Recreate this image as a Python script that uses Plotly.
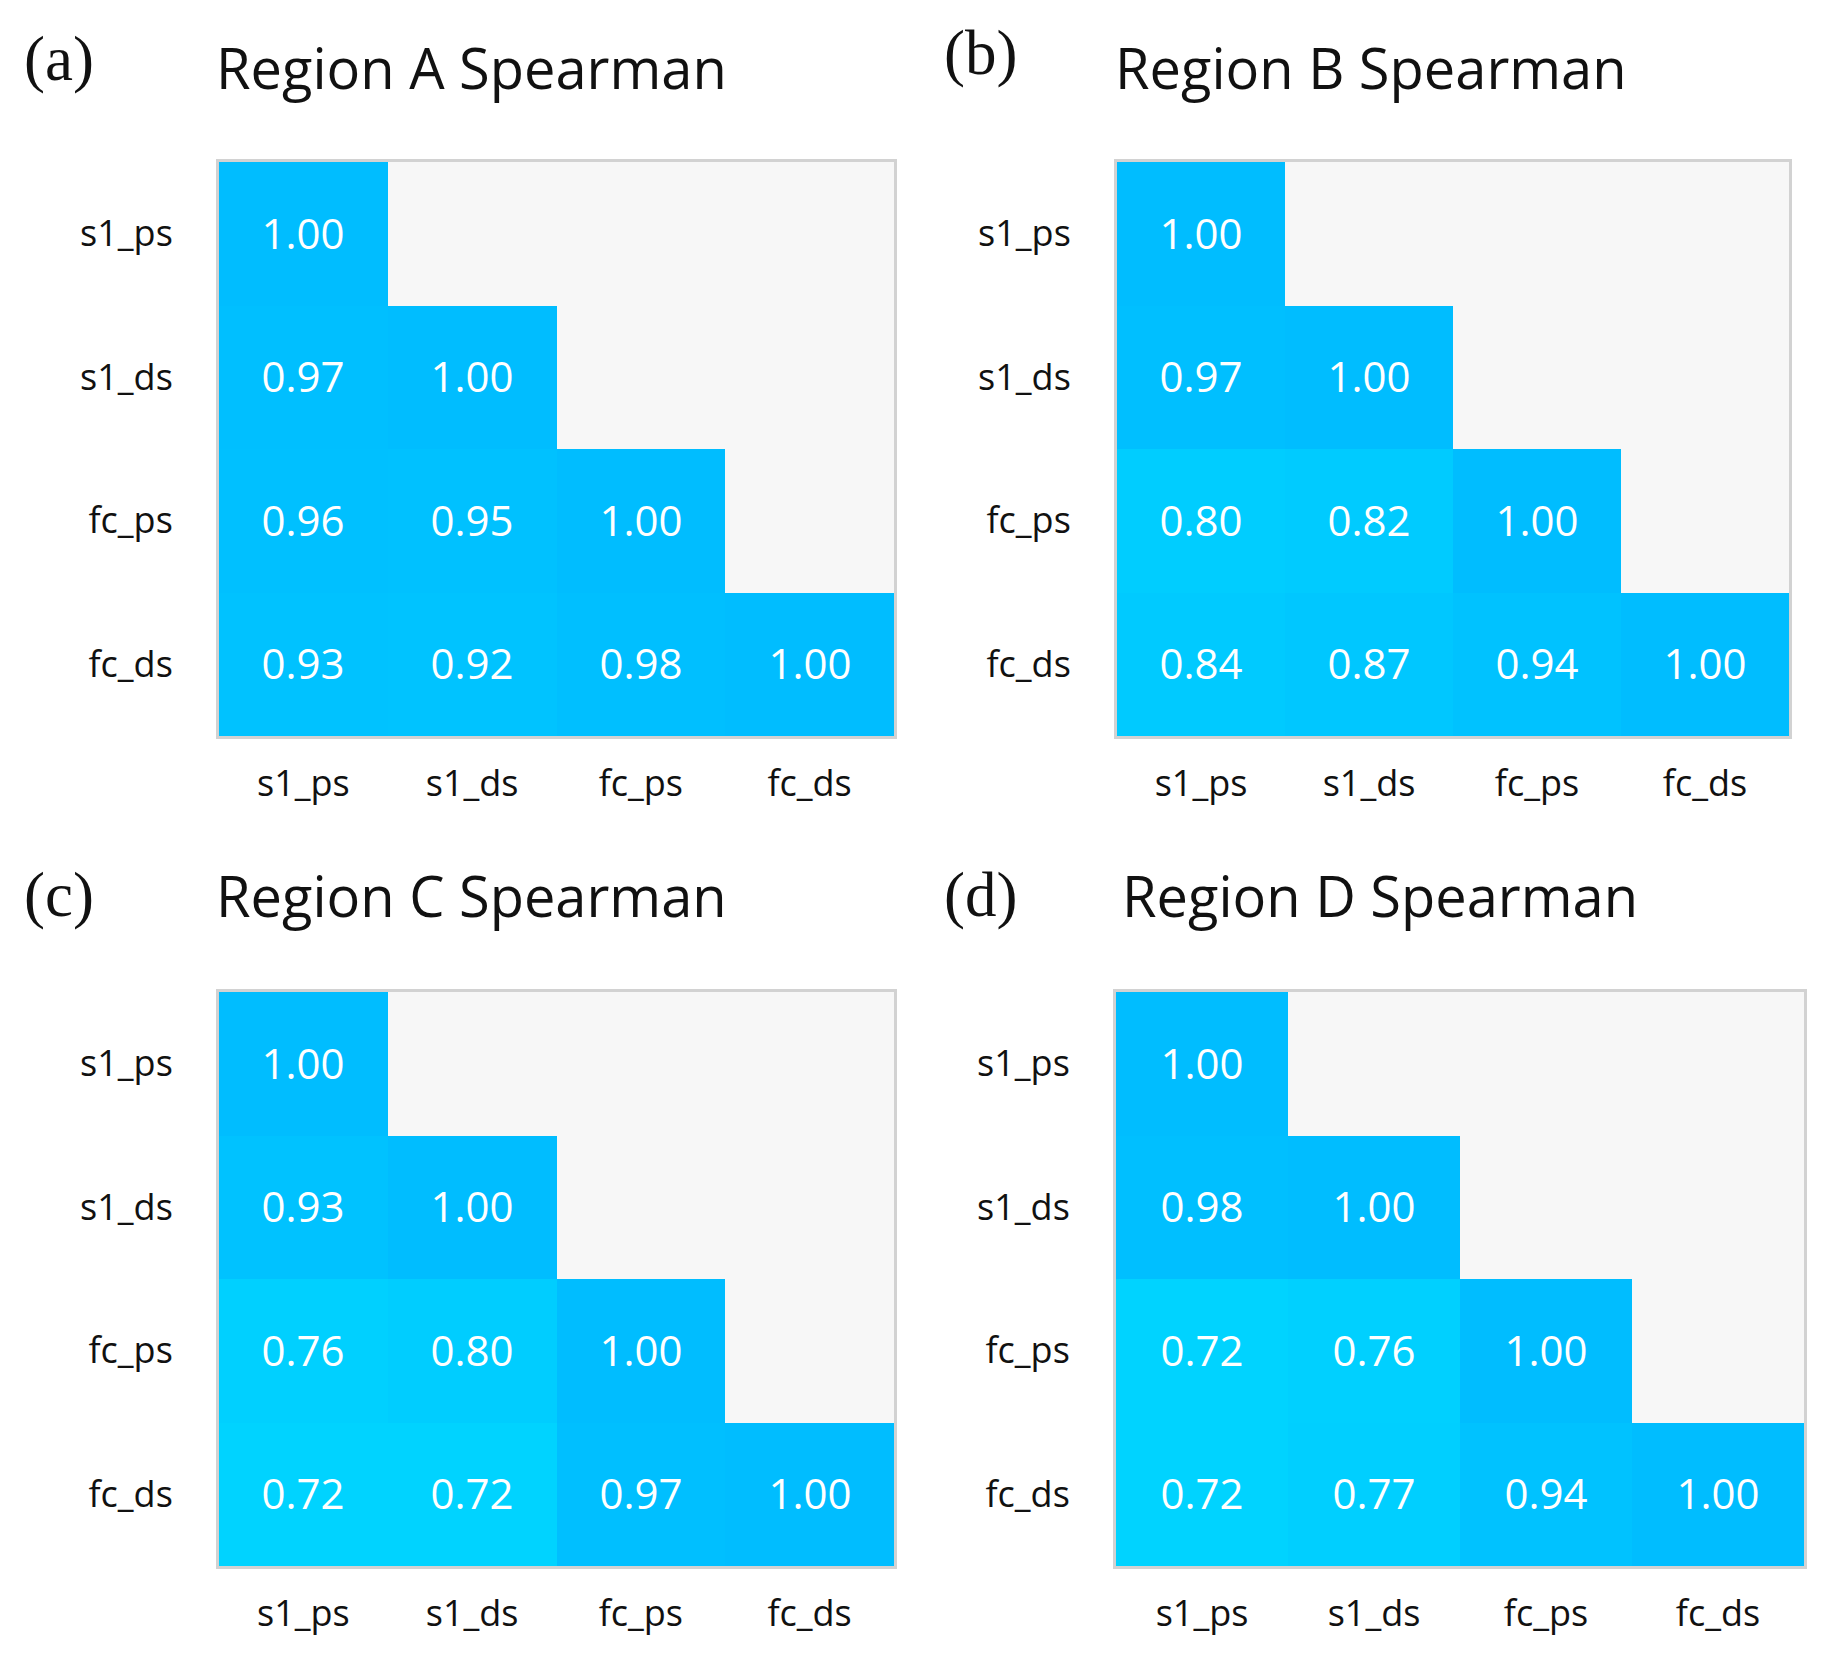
import plotly.graph_objects as go

W, H = 1827, 1656

variables = ["s1_ps", "s1_ds", "fc_ps", "fc_ds"]
titles = ["Region A Spearman", "Region B Spearman", "Region C Spearman", "Region D Spearman"]
panel_labels = ["(a)", "(b)", "(c)", "(d)"]

region_a = [[1.00, None, None, None],
            [0.97, 1.00, None, None],
            [0.96, 0.95, 1.00, None],
            [0.93, 0.92, 0.98, 1.00]]
region_b = [[1.00, None, None, None],
            [0.97, 1.00, None, None],
            [0.80, 0.82, 1.00, None],
            [0.84, 0.87, 0.94, 1.00]]
region_c = [[1.00, None, None, None],
            [0.93, 1.00, None, None],
            [0.76, 0.80, 1.00, None],
            [0.72, 0.72, 0.97, 1.00]]
region_d = [[1.00, None, None, None],
            [0.98, 1.00, None, None],
            [0.72, 0.76, 1.00, None],
            [0.72, 0.77, 0.94, 1.00]]
matrices = [region_a, region_b, region_c, region_d]

# pixel boxes (left, top, right, bottom)
boxes = [(211, 154, 886, 728), (1109, 154, 1781, 728),
         (211, 984, 886, 1558), (1108, 984, 1796, 1558)]
title_pos = [(206, 59), (1105, 59), (206, 887), (1112, 887)]
label_pos = [(14, 51), (934, 45), (14, 887), (934, 887)]

SANS = "Open Sans"
colorscale = [[0.0, "#00D3FF"], [1.0, "#00BDFF"]]

fig = go.Figure()
annotations = []
for i, (z, box) in enumerate(zip(matrices, boxes)):
    n = i + 1
    xa = "x" if n == 1 else f"x{n}"
    ya = "y" if n == 1 else f"y{n}"
    fig.add_trace(go.Heatmap(
        z=z, x=variables, y=variables,
        xaxis=xa, yaxis=ya,
        colorscale=colorscale, zmin=0.72, zmax=1.0,
        showscale=False, hoverongaps=False,
        texttemplate="%{z:.2f}",
        textfont=dict(family=SANS, size=42, color="white"),
    ))
    l, t, r, b = box
    axkey_x = "xaxis" if n == 1 else f"xaxis{n}"
    axkey_y = "yaxis" if n == 1 else f"yaxis{n}"
    fig.update_layout({
        axkey_x: dict(domain=[l / W, r / W], anchor=ya, showgrid=False, zeroline=False,
                      showline=True, mirror=True, linecolor="#D2D2D2", linewidth=3,
                      ticks="outside", ticklen=14, tickcolor="rgba(0,0,0,0)",
                      tickfont=dict(family=SANS, size=36, color="#111111"),
                      fixedrange=True),
        axkey_y: dict(domain=[1 - b / H, 1 - t / H], anchor=xa, showgrid=False, zeroline=False,
                      autorange="reversed",
                      showline=True, mirror=True, linecolor="#D2D2D2", linewidth=3,
                      ticks="outside", ticklen=36, tickcolor="rgba(0,0,0,0)",
                      tickfont=dict(family=SANS, size=36, color="#111111"),
                      fixedrange=True),
    })
    tx, ty = title_pos[i]
    annotations.append(dict(text=titles[i], xref="paper", yref="paper",
                            x=tx / W, y=1 - ty / H, xanchor="left", yanchor="middle",
                            showarrow=False, font=dict(family=SANS, size=56, color="#111111")))
    lx, ly = label_pos[i]
    annotations.append(dict(text=panel_labels[i], xref="paper", yref="paper",
                            x=lx / W, y=1 - ly / H, xanchor="left", yanchor="middle",
                            showarrow=False, font=dict(family="Liberation Serif", size=63, color="#111111")))

fig.update_layout(width=W, height=H, margin=dict(l=0, r=0, t=0, b=0),
                  paper_bgcolor="white", plot_bgcolor="#F7F7F7",
                  annotations=annotations, showlegend=False)

fig.write_html("out.html")
